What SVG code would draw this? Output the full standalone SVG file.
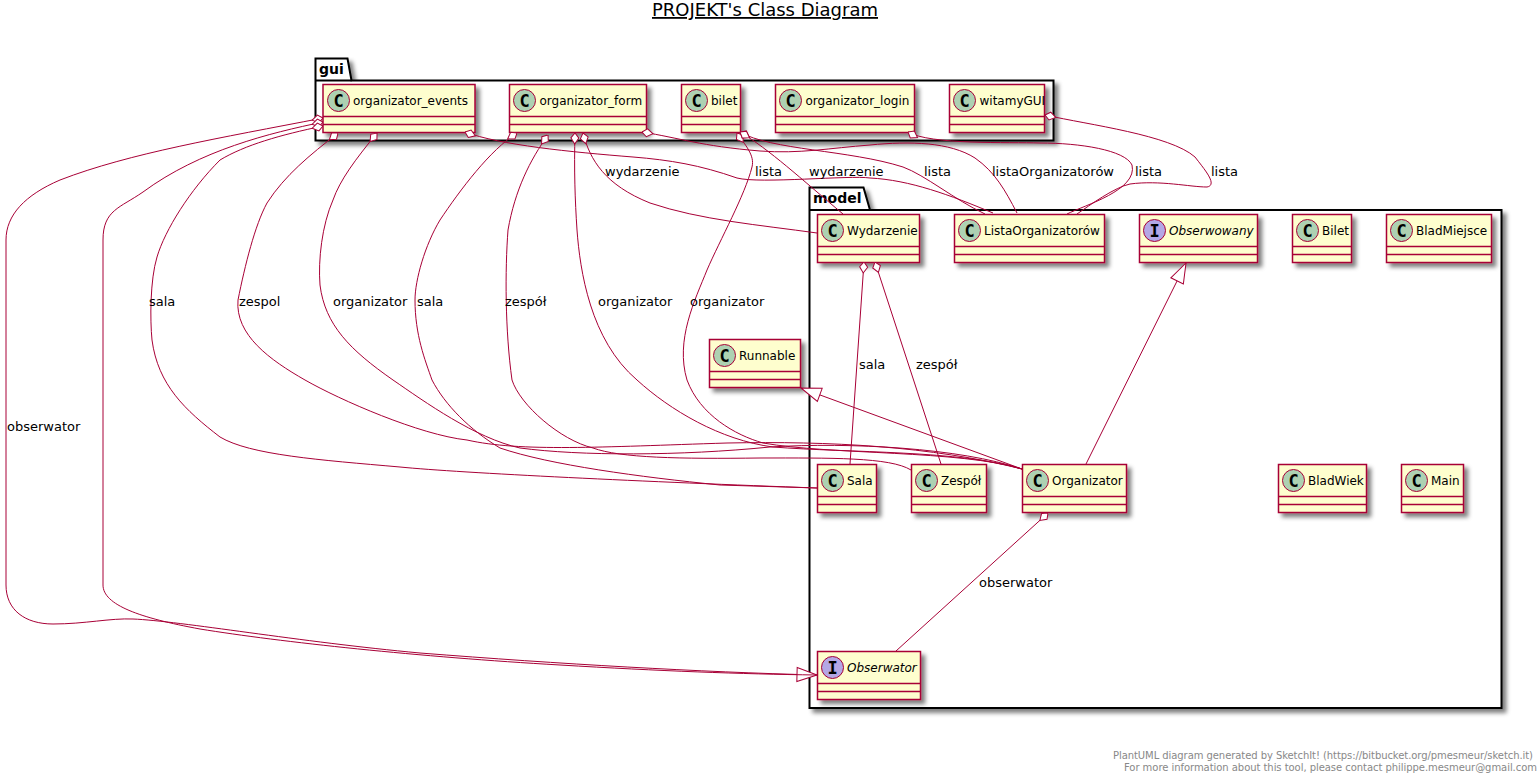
<svg xmlns="http://www.w3.org/2000/svg" width="1537" height="782" viewBox="0 0 1537 782">
<style>
text{font-family:"DejaVu Sans",sans-serif;fill:#000}
.box{fill:#FEFECE;stroke:#A80036;stroke-width:1.5;filter:url(#sh)}
.div{stroke:#A80036;stroke-width:1.5}
.spot{fill:#ADD1B2;stroke:#A80036;stroke-width:1}
.ispot{fill:#B4A7E5;stroke:#A80036;stroke-width:1}
.letter{font-family:"DejaVu Sans Mono",monospace;font-weight:bold;font-size:17px;text-anchor:middle}
.name{font-size:12px}
.it{font-style:italic}
.lbl{font-size:13px}
.pkg{fill:#fff;stroke:#000;stroke-width:2;filter:url(#sh)}
.pname{font-size:14px;font-weight:bold}
.foot{font-size:10px;fill:#888}
.c{fill:none;stroke:#A80036;stroke-width:1}
.ag{marker-start:url(#dia)}
.re{marker-end:url(#tri)}
</style>
<defs>
<filter id="sh" x="-20%" y="-20%" width="140%" height="140%"><feGaussianBlur in="SourceAlpha" stdDeviation="2"/><feColorMatrix type="matrix" values="0 0 0 0 0 0 0 0 0 0 0 0 0 0 0 0 0 0 .5 0"/><feOffset dx="4" dy="4" result="b"/><feBlend in="SourceGraphic" in2="b"/></filter>
<marker id="dia" markerUnits="userSpaceOnUse" markerWidth="14" markerHeight="12" refX="0" refY="6" orient="auto" viewBox="0 0 14 12"><polygon points="0,6 5,2 11,6 5,10" fill="#fff" stroke="#A80036"/></marker>
<marker id="tri" markerUnits="userSpaceOnUse" markerWidth="22" markerHeight="18" refX="21" refY="9" orient="auto" viewBox="0 0 22 18"><polygon points="21,9 1,2 1,16" fill="#fff" stroke="#A80036"/></marker>
</defs>
<rect width="1537" height="782" fill="#fff"/>
<text x="765" y="16" font-size="18" text-anchor="middle" text-decoration="underline">PROJEKT's Class Diagram</text>
<g id="pkg-gui"><path class="pkg" d="M315.5,80.5V58.5H347.5L351.5,80.5H1053.5V140.5H315.5Z"/><line x1="315.5" y1="80.5" x2="351.5" y2="80.5" stroke="#000" stroke-width="2"/><text class="pname" x="319" y="74">gui</text></g>
<g id="pkg-model"><path class="pkg" d="M809.5,210V187.5H863.5L870,210H1501.5V708H809.5Z"/><line x1="809.5" y1="210" x2="870" y2="210" stroke="#000" stroke-width="2"/><text class="pname" x="813" y="203">model</text></g>

<g id="organizator_events"><rect class="box" x="323" y="84.5" width="152" height="48"/><line class="div" x1="323" y1="116.5" x2="475" y2="116.5"/><line class="div" x1="323" y1="124.5" x2="475" y2="124.5"/><circle class="spot" cx="338.500" cy="100.500" r="11"/><text class="letter" x="338.500" y="106.500">C</text><text class="name" x="353" y="105">organizator_events</text></g>
<g id="organizator_form"><rect class="box" x="509.500" y="84.5" width="137" height="48"/><line class="div" x1="509.500" y1="116.5" x2="646.500" y2="116.5"/><line class="div" x1="509.500" y1="124.5" x2="646.500" y2="124.5"/><circle class="spot" cx="524.500" cy="100.500" r="11"/><text class="letter" x="524.500" y="106.500">C</text><text class="name" x="539.500" y="105">organizator_form</text></g>
<g id="bilet"><rect class="box" x="681.500" y="84.5" width="59" height="48"/><line class="div" x1="681.500" y1="116.5" x2="740.500" y2="116.5"/><line class="div" x1="681.500" y1="124.5" x2="740.500" y2="124.5"/><circle class="spot" cx="696.500" cy="100.500" r="11"/><text class="letter" x="696.500" y="106.500">C</text><text class="name" x="711" y="105">bilet</text></g>
<g id="organizator_login"><rect class="box" x="775.500" y="84.5" width="139" height="48"/><line class="div" x1="775.500" y1="116.5" x2="914.500" y2="116.5"/><line class="div" x1="775.500" y1="124.5" x2="914.500" y2="124.5"/><circle class="spot" cx="790.500" cy="100.500" r="11"/><text class="letter" x="790.500" y="106.500">C</text><text class="name" x="805.500" y="105">organizator_login</text></g>
<g id="witamyGUI"><rect class="box" x="949.500" y="84.5" width="95" height="48"/><line class="div" x1="949.500" y1="116.5" x2="1044.500" y2="116.5"/><line class="div" x1="949.500" y1="124.5" x2="1044.500" y2="124.5"/><circle class="spot" cx="964.500" cy="100.500" r="11"/><text class="letter" x="964.500" y="106.500">C</text><text class="name" x="979.500" y="105">witamyGUI</text></g>

<g id="Wydarzenie"><rect class="box" x="817.500" y="214.500" width="102" height="48"/><line class="div" x1="817.500" y1="246.500" x2="919.500" y2="246.500"/><line class="div" x1="817.500" y1="254.500" x2="919.500" y2="254.500"/><circle class="spot" cx="832.500" cy="230.500" r="11"/><text class="letter" x="832.500" y="236.500">C</text><text class="name" x="847" y="235">Wydarzenie</text></g>
<g id="ListaOrganizatorow"><rect class="box" x="954.500" y="214.500" width="150" height="48"/><line class="div" x1="954.500" y1="246.500" x2="1104.500" y2="246.500"/><line class="div" x1="954.500" y1="254.500" x2="1104.500" y2="254.500"/><circle class="spot" cx="969.500" cy="230.500" r="11"/><text class="letter" x="969.500" y="236.500">C</text><text class="name" x="984" y="235">ListaOrganizatorów</text></g>
<g id="Obserwowany"><rect class="box" x="1139.500" y="214.500" width="118" height="48"/><line class="div" x1="1139.500" y1="246.500" x2="1257.500" y2="246.500"/><line class="div" x1="1139.500" y1="254.500" x2="1257.500" y2="254.500"/><circle class="ispot" cx="1154.500" cy="230.500" r="11"/><text class="letter" x="1154.500" y="236.500">I</text><text class="name it" x="1169" y="235">Obserwowany</text></g>
<g id="Bilet"><rect class="box" x="1292.500" y="214.500" width="59" height="48"/><line class="div" x1="1292.500" y1="246.500" x2="1351.500" y2="246.500"/><line class="div" x1="1292.500" y1="254.500" x2="1351.500" y2="254.500"/><circle class="spot" cx="1307.500" cy="230.500" r="11"/><text class="letter" x="1307.500" y="236.500">C</text><text class="name" x="1322" y="235">Bilet</text></g>
<g id="BladMiejsce"><rect class="box" x="1386.500" y="214.500" width="105" height="48"/><line class="div" x1="1386.500" y1="246.500" x2="1491.500" y2="246.500"/><line class="div" x1="1386.500" y1="254.500" x2="1491.500" y2="254.500"/><circle class="spot" cx="1401.500" cy="230.500" r="11"/><text class="letter" x="1401.500" y="236.500">C</text><text class="name" x="1416" y="235">BladMiejsce</text></g>
<g id="Runnable"><rect class="box" x="709.500" y="339.500" width="91" height="48"/><line class="div" x1="709.500" y1="371.500" x2="800.500" y2="371.500"/><line class="div" x1="709.500" y1="379.500" x2="800.500" y2="379.500"/><circle class="spot" cx="724.500" cy="355.500" r="11"/><text class="letter" x="724.500" y="361.500">C</text><text class="name" x="739" y="360">Runnable</text></g>
<g id="Sala"><rect class="box" x="817.500" y="464.500" width="59" height="48"/><line class="div" x1="817.500" y1="496.500" x2="876.500" y2="496.500"/><line class="div" x1="817.500" y1="504.500" x2="876.500" y2="504.500"/><circle class="spot" cx="832.500" cy="480.500" r="11"/><text class="letter" x="832.500" y="486.500">C</text><text class="name" x="847" y="485">Sala</text></g>
<g id="Zespol"><rect class="box" x="911.500" y="464.500" width="75" height="48"/><line class="div" x1="911.500" y1="496.500" x2="986.500" y2="496.500"/><line class="div" x1="911.500" y1="504.500" x2="986.500" y2="504.500"/><circle class="spot" cx="926.500" cy="480.500" r="11"/><text class="letter" x="926.500" y="486.500">C</text><text class="name" x="941" y="485">Zespół</text></g>
<g id="Organizator"><rect class="box" x="1022.500" y="464.500" width="104" height="48"/><line class="div" x1="1022.500" y1="496.500" x2="1126.500" y2="496.500"/><line class="div" x1="1022.500" y1="504.500" x2="1126.500" y2="504.500"/><circle class="spot" cx="1037.500" cy="480.500" r="11"/><text class="letter" x="1037.500" y="486.500">C</text><text class="name" x="1052" y="485">Organizator</text></g>
<g id="BladWiek"><rect class="box" x="1278.500" y="464.500" width="88" height="48"/><line class="div" x1="1278.500" y1="496.500" x2="1366.500" y2="496.500"/><line class="div" x1="1278.500" y1="504.500" x2="1366.500" y2="504.500"/><circle class="spot" cx="1293.500" cy="480.500" r="11"/><text class="letter" x="1293.500" y="486.500">C</text><text class="name" x="1308" y="485">BladWiek</text></g>
<g id="Main"><rect class="box" x="1401.500" y="464.500" width="62" height="48"/><line class="div" x1="1401.500" y1="496.500" x2="1463.500" y2="496.500"/><line class="div" x1="1401.500" y1="504.500" x2="1463.500" y2="504.500"/><circle class="spot" cx="1416.500" cy="480.500" r="11"/><text class="letter" x="1416.500" y="486.500">C</text><text class="name" x="1431" y="485">Main</text></g>
<g id="Obserwator"><rect class="box" x="817.500" y="651.500" width="103" height="48"/><line class="div" x1="817.500" y1="683.500" x2="920.500" y2="683.500"/><line class="div" x1="817.500" y1="691.500" x2="920.500" y2="691.500"/><circle class="ispot" cx="832.500" cy="667.500" r="11"/><text class="letter" x="832.500" y="673.500">I</text><text class="name it" x="847" y="672">Obserwator</text></g>

<g id="connectors">
<path class="c ag re" d="M323,118 C220,138 130,153 60,180 C25,195 6,215 6,240 L6,585 C6,610 25,624 53,624 C85,624 110,618 133,619 C180,621 300,642 420,653 C560,664 700,672 817,675"/>
<path class="c ag" d="M323,122 C270,133 200,150 143,192 C120,208 103,210 103,240 L103,585 C103,605 140,618 200,629 C280,642 420,657 560,665 C660,671 740,674 817,675"/>
<path class="c ag" d="M323,126 C280,135 245,145 220,160 C190,190 165,230 157,257 C150,280 150,320 152,340 C158,385 185,410 220,437 C250,455 320,460 400,467 C460,473 650,482 817,488"/>
<path class="c ag" d="M338,133 C310,155 285,175 267,203 C255,225 245,265 238,300 C235,335 270,360 305,380 C340,400 420,435 467,440 C520,452 600,447 727,443 C830,441 930,446 1022,469"/>
<path class="c ag" d="M377,133 C355,160 340,180 333,200 C322,225 318,260 320,285 C325,325 350,350 393,380 C425,402 475,438 520,448 C580,456 680,456 770,447 C850,442 960,448 1022,469"/>
<path class="c ag" d="M517,133 C490,150 460,190 440,220 C425,245 415,280 415,300 C415,335 425,360 432,380 C445,405 470,430 500,448 C550,465 640,477 720,485 L817,488"/>
<path class="c ag" d="M548,135 C530,160 515,190 508,230 C505,270 505,330 512,380 C520,405 560,440 593,448 C620,458 680,459 760,458 C830,458 890,457 911,470"/>
<path class="c ag" d="M575,133 C574,170 575,200 577,230 C580,270 590,340 637,380 C670,410 720,440 773,447 C850,453 960,450 1022,469"/>
<path class="c ag" d="M583,133 C590,160 605,185 650,203 C700,220 760,225 817,233"/>
<path class="c ag" d="M465,132 C500,145 570,152 633,157 C670,160 700,165 737,178 C760,184 850,175 870,178 C910,180 950,195 993,213"/>
<path class="c ag" d="M642,132 C680,138 700,146 760,151 C800,154 830,148 870,145 C910,141 950,142 975,158 C995,172 1005,190 1017,213"/>
<path class="c ag" d="M737,133 C745,145 755,155 752,167 C745,195 720,240 707,270 C695,300 675,340 687,380 C700,415 735,435 763,443 C830,455 960,450 1022,469"/>
<path class="c ag" d="M740,132 C770,150 800,178 843,214"/>
<path class="c ag" d="M740,132 C770,150 850,150 903,167 C925,175 955,200 985,214"/>
<path class="c ag" d="M908,132 C930,145 1010,142 1040,143 C1080,143 1125,150 1132,165 C1138,190 1085,205 1067,214"/>
<path class="c ag" d="M1045,115 C1090,125 1170,135 1195,157 C1205,170 1218,185 1207,187 C1190,187 1160,180 1130,184 C1115,187 1090,205 1077,214"/>
<path class="c ag" d="M864,262 L850,464"/>
<path class="c ag" d="M875,262 L941,464"/>
<path class="c re" d="M1086,464 L1186,263"/>
<path class="c re" d="M1022,469 L801,388"/>
<path class="c ag" d="M1048,513 L896,651"/>
</g>

<g id="labels">
<text class="lbl" x="7" y="431">obserwator</text>
<text class="lbl" x="149" y="306">sala</text>
<text class="lbl" x="239" y="306">zespol</text>
<text class="lbl" x="333" y="306">organizator</text>
<text class="lbl" x="417" y="306">sala</text>
<text class="lbl" x="505" y="306">zespół</text>
<text class="lbl" x="598" y="306">organizator</text>
<text class="lbl" x="690" y="306">organizator</text>
<text class="lbl" x="605" y="176">wydarzenie</text>
<text class="lbl" x="755" y="176">lista</text>
<text class="lbl" x="809" y="176">wydarzenie</text>
<text class="lbl" x="924" y="176">lista</text>
<text class="lbl" x="992" y="176">listaOrganizatorów</text>
<text class="lbl" x="1135" y="176">lista</text>
<text class="lbl" x="1211" y="176">lista</text>
<text class="lbl" x="859" y="369">sala</text>
<text class="lbl" x="916" y="369">zespół</text>
<text class="lbl" x="979" y="587">obserwator</text>
</g>
<text class="foot" x="1113" y="759" textLength="420">PlantUML diagram generated by SketchIt! (https://bitbucket.org/pmesmeur/sketch.it)</text>
<text class="foot" x="1124" y="771" textLength="413">For more information about this tool, please contact philippe.mesmeur@gmail.com</text>
</svg>
